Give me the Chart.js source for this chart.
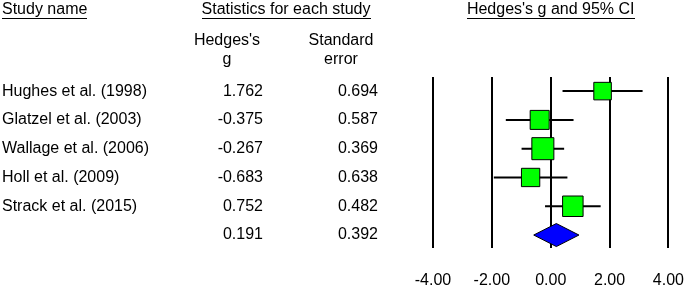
<!DOCTYPE html>
<html>
<head>
<meta charset="utf-8">
<script src="https://cdn.jsdelivr.net/npm/chart.js@4.4.1/dist/chart.umd.min.js"></script>
<style>
  html, body { margin: 0; padding: 0; background: #fff; }
</style>
</head>
<body>
<canvas id="forestPlot" width="685" height="290"></canvas>
<script>
// Study data
const studyNames = ['Hughes et al. (1998)', 'Glatzel et al. (2003)', 'Wallage et al. (2006)', 'Holl et al. (2009)', 'Strack et al. (2015)'];
const hedgesG = [1.762, -0.375, -0.267, -0.683, 0.752];
const stdError = [0.694, 0.587, 0.369, 0.638, 0.482];
const relWeight = [16.1, 18.9, 25.4, 17.6, 22.0]; // random effects weights, %
const summaryG = 0.191;
const summarySE = 0.392;
const xTicks = [-4, -2, 0, 2, 4];

const FONT_FAMILY = '"Liberation Sans", Arial, sans-serif';
const FONT = '16px ' + FONT_FAMILY;
const summaryRow = studyNames.length;

const ciLow = hedgesG.map((g, i) => g - 1.96 * stdError[i]);
const ciHigh = hedgesG.map((g, i) => g + 1.96 * stdError[i]);
const sumLow = summaryG - 1.96 * summarySE;
const sumHigh = summaryG + 1.96 * summarySE;

// whiskers, one dataset per study
const whiskers = studyNames.map((name, i) => ({
  type: 'scatter',
  showLine: true,
  data: [{ x: ciLow[i], y: i }, { x: ciHigh[i], y: i }],
  borderColor: '#000',
  borderWidth: 2,
  pointRadius: 0,
  order: 3
}));

const squares = {
  type: 'scatter',
  data: hedgesG.map((g, i) => ({ x: g, y: i })),
  pointStyle: 'rect',
  pointRadius: relWeight.map(w => 4.37 * Math.sqrt(w) / Math.SQRT2),
  backgroundColor: '#00ff00',
  borderColor: '#000',
  borderWidth: 1,
  order: 1
};

const diamond = {
  type: 'scatter',
  showLine: true,
  fill: 'shape',
  data: [
    { x: sumLow, y: summaryRow },
    { x: summaryG, y: summaryRow - 0.4 },
    { x: sumHigh, y: summaryRow },
    { x: summaryG, y: summaryRow + 0.4 },
    { x: sumLow, y: summaryRow }
  ],
  backgroundColor: '#0000ff',
  borderColor: '#000',
  borderWidth: 1,
  pointRadius: 0,
  tension: 0,
  order: 2
};

function underlined(ctx, text, x, y, align) {
  ctx.textAlign = align;
  ctx.fillText(text, x, y);
  const w = ctx.measureText(text).width;
  const x0 = align === 'center' ? x - w / 2 : x;
  ctx.fillRect(Math.round(x0), Math.round(y + 8), Math.round(w), 1);
}

// table text to the left of the plot
const tablePlugin = {
  id: 'studyTable',
  afterDraw(chart) {
    const ctx = chart.ctx;
    const yScale = chart.scales.y;
    const xScale = chart.scales.x;
    ctx.save();
    ctx.font = FONT;
    ctx.fillStyle = '#000';
    ctx.textBaseline = 'middle';

    underlined(ctx, 'Study name', 2, 10, 'left');
    underlined(ctx, 'Statistics for each study', 286, 10, 'center');
    underlined(ctx, "Hedges's g and 95% CI", xScale.getPixelForValue(0), 10, 'center');

    ctx.textAlign = 'center';
    ctx.fillText("Hedges's", 227, 41);
    ctx.fillText('g', 227, 60);
    ctx.fillText('Standard', 341, 41);
    ctx.fillText('error', 341, 60);

    studyNames.forEach((name, i) => {
      const y = yScale.getPixelForValue(i);
      ctx.textAlign = 'left';
      ctx.fillText(name, 2, y);
      ctx.textAlign = 'right';
      ctx.fillText(hedgesG[i].toFixed(3), 263, y);
      ctx.fillText(stdError[i].toFixed(3), 378, y);
    });
    const ys = yScale.getPixelForValue(summaryRow);
    ctx.textAlign = 'right';
    ctx.fillText(summaryG.toFixed(3), 263, ys);
    ctx.fillText(summarySE.toFixed(3), 378, ys);
    ctx.restore();
  }
};

new Chart(document.getElementById('forestPlot'), {
  type: 'scatter',
  data: { datasets: [...whiskers, diamond, squares] },
  options: {
    responsive: false,
    animation: false,
    events: [],
    layout: { padding: { left: 433, right: 16, top: 77, bottom: 0 } },
    plugins: { legend: { display: false }, tooltip: { enabled: false } },
    scales: {
      x: {
        type: 'linear',
        min: xTicks[0],
        max: xTicks[xTicks.length - 1],
        afterBuildTicks: s => { s.ticks = xTicks.map(v => ({ value: v })); },
        afterFit: s => { s.height = 42; s.paddingLeft = 0; s.paddingRight = 0; },
        border: { display: false },
        grid: { color: '#000', lineWidth: 2, drawTicks: false },
        ticks: {
          color: '#000',
          padding: 23,
          font: { family: FONT_FAMILY, size: 16 },
          callback: v => Number(v).toFixed(2)
        }
      },
      y: {
        type: 'linear',
        display: false,
        reverse: true,
        min: -0.49,
        max: 5.45
      }
    }
  },
  plugins: [tablePlugin]
});
</script>
</body>
</html>
